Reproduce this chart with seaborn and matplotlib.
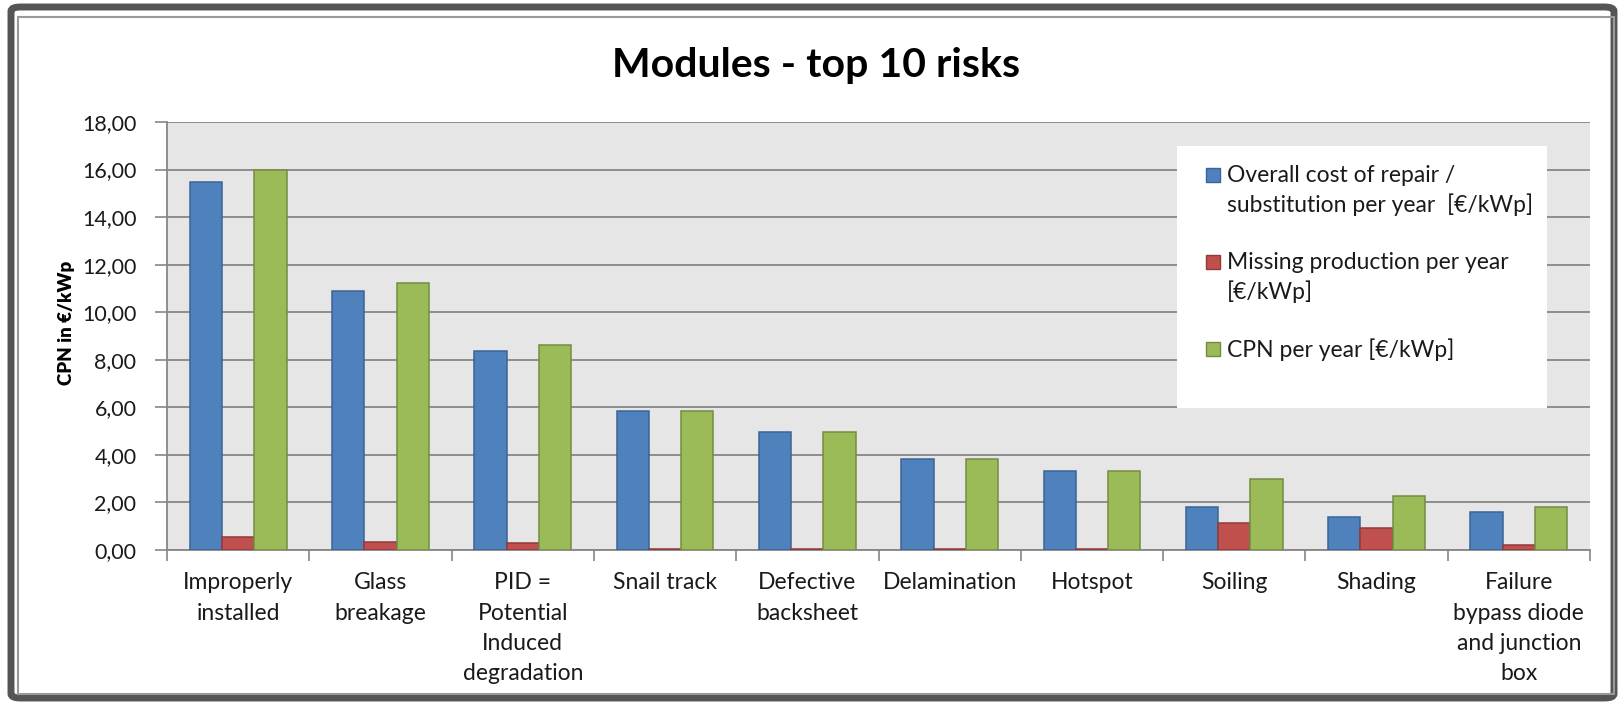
import matplotlib
matplotlib.use("Agg")
import matplotlib.pyplot as plt
import matplotlib.patches as mpatches
from matplotlib.legend_handler import HandlerPatch
import seaborn as sns
import pandas as pd
import numpy as np

# Risk categories (x axis) and the three series per category
categories = [
    "Improperly\ninstalled",
    "Glass\nbreakage",
    "PID =\nPotential\nInduced\ndegradation",
    "Snail track",
    "Defective\nbacksheet",
    "Delamination",
    "Hotspot",
    "Soiling",
    "Shading",
    "Failure\nbypass diode\nand junction\nbox",
]
repair_cost = [15.49, 10.88, 8.39, 5.86, 4.95, 3.83, 3.34, 1.81, 1.40, 1.61]
missing_production = [0.56, 0.35, 0.29, 0.05, 0.05, 0.05, 0.05, 1.15, 0.91, 0.21]
cpn = [16.00, 11.23, 8.64, 5.86, 4.95, 3.84, 3.34, 2.97, 2.26, 1.81]

series_names = [
    "Overall cost of repair /\nsubstitution per year  [€/kWp]",
    "Missing production per year\n[€/kWp]",
    "CPN per year [€/kWp]",
]
y_ticks = [0, 2, 4, 6, 8, 10, 12, 14, 16, 18]
y_tick_labels = ["0,00", "2,00", "4,00", "6,00", "8,00", "10,00", "12,00", "14,00", "16,00", "18,00"]

fills = ["#4f81bd", "#c0504d", "#9bbb59"]
edges = ["#3a6496", "#8f3b39", "#748c42"]

df = pd.DataFrame({
    "category": categories * 3,
    "series": [series_names[0]] * 10 + [series_names[1]] * 10 + [series_names[2]] * 10,
    "value": repair_cost + missing_production + cpn,
})

sns.set_theme(style="white")
plt.rcParams["font.family"] = ["Lato", "DejaVu Sans"]

fig = plt.figure(figsize=(16.22, 7.07), dpi=100)
ax = fig.add_axes([167 / 1622, 1 - 550 / 707, 1423 / 1622, 428 / 707])
ax.set_facecolor("#e6e6e6")

sns.barplot(data=df, x="category", y="value", hue="series", order=categories,
            hue_order=series_names, palette=fills, width=0.68, ax=ax,
            legend=False, zorder=3, saturation=1)
for cont, ec in zip(ax.containers, edges):
    for bar in cont:
        bar.set_edgecolor(ec)
        bar.set_linewidth(1.1)

ax.set_ylim(0, 18)
ax.set_xlim(-0.5, len(categories) - 0.5)
ax.set_yticks(y_ticks)
ax.set_yticklabels(y_tick_labels, fontsize=15.5, color="#1a1a1a")
ax.yaxis.grid(True, color="#868686", linewidth=1.3, zorder=0)
ax.set_axisbelow(True)

ax.set_xticks(range(len(categories)))
ax.set_xticklabels(categories, fontsize=16.5, color="#1a1a1a", linespacing=1.55,
                   va="top")
ax.set_xticks(np.arange(-0.5, len(categories)), minor=True)
ax.tick_params(axis="x", which="major", length=0, pad=16)
ax.tick_params(axis="x", which="minor", length=8, width=1.2, color="#868686",
               direction="out", bottom=True)
ax.tick_params(axis="y", length=9, width=1.2, color="#868686", direction="out",
               left=True, pad=13)
ax.set_xlabel("")
ax.set_ylabel("CPN in €/kWp", fontsize=13.5, fontweight="heavy", color="#000000")
ax.yaxis.set_label_coords(-0.0645, 0.53)

for side in ["top", "right"]:
    ax.spines[side].set_visible(False)
for side in ["left", "bottom"]:
    ax.spines[side].set_color("#868686")
    ax.spines[side].set_linewidth(1.3)

# Legend: white panel with handles aligned to the first text line
panel = mpatches.Rectangle(((1177 - 167) / 1423, (550 - 408) / 428),
                           (1547 - 1177) / 1423, (408 - 146) / 428,
                           transform=ax.transAxes, facecolor="white",
                           edgecolor="none", zorder=4)
ax.add_patch(panel)

line_offsets = [11.5, 11.5, 0.0]


def make_square(offset):
    def _patch(legend, orig_handle, xdescent, ydescent, width, height, fontsize):
        side = 10
        return mpatches.Rectangle((-xdescent + (width - side) / 2,
                                   -ydescent + (height - side) / 2 + offset),
                                  side, side)
    return _patch


handles = [mpatches.Patch(facecolor=f, edgecolor=e, linewidth=1)
           for f, e in zip(fills, edges)]
handler_map = {h: HandlerPatch(patch_func=make_square(o))
               for h, o in zip(handles, line_offsets)}
leg = ax.legend(handles, series_names, loc="upper left",
                bbox_to_anchor=((1196 - 167) / 1423, (550 - 156) / 428),
                borderaxespad=0, frameon=False, fontsize=16.5,
                handlelength=0.7, handletextpad=0.25, labelspacing=1.55,
                handler_map=handler_map)
leg.set_zorder(5)
for t in leg.get_texts():
    t.set_linespacing(1.4)
    t.set_color("#1a1a1a")

fig.text(816 / 1622, 1 - 65 / 707, "Modules - top 10 risks", ha="center",
         va="center", fontsize=29.5, fontweight="bold", color="#000000")

# Chart frame: thick dark border with a thin inner line
outer = mpatches.FancyBboxPatch((11 / 1622, 9 / 707), 1603 / 1622, 691 / 707,
                                boxstyle="round,pad=0,rounding_size=0.006",
                                transform=fig.transFigure, facecolor="none",
                                edgecolor="#555555", linewidth=5)
inner = mpatches.Rectangle((18 / 1622, 13 / 707), 1596 / 1622, 677 / 707,
                           transform=fig.transFigure, facecolor="none",
                           edgecolor="#9a9a9a", linewidth=1.5)
fig.patches.extend([outer, inner])

fig.savefig("out.png", dpi=100, facecolor="white")
